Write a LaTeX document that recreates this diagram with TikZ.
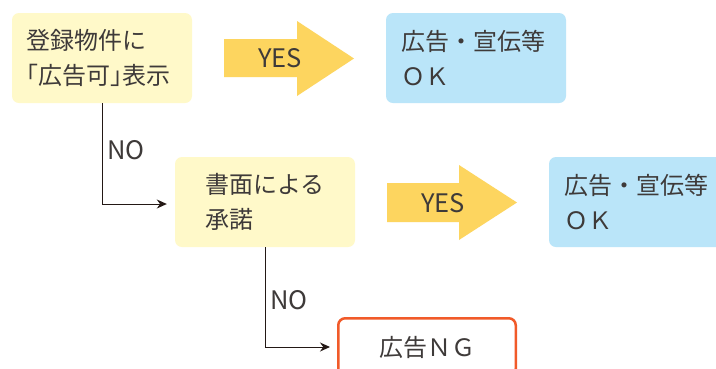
\documentclass[tikz,border=0pt]{standalone}
\usepackage{fontspec}
\setmainfont{Noto Sans CJK JP}
\usetikzlibrary{arrows.meta}
\definecolor{boxyellow}{HTML}{FFF9C9}
\definecolor{boxblue}{HTML}{BAE5F9}
\definecolor{arrowyellow}{HTML}{FDD55F}
\definecolor{ngred}{HTML}{F15A29}
\definecolor{textgray}{HTML}{3E3A39}
\definecolor{linecol}{HTML}{231815}
\newcommand\halfw[1]{{\addfontfeature{RawFeature=+halt}#1}}
\begin{document}
\begin{tikzpicture}[x=1pt,y=-1pt,
  txt/.style={text=textgray, font=\fontsize{24}{34.5}\selectfont},
  lat/.style={text=textgray, font=\fontsize{25.5}{30}\selectfont},
  qbox/.style={txt, fill=boxyellow, rounded corners=7pt, minimum width=180pt,
    minimum height=90pt, align=left, text width=150pt, inner xsep=15pt, inner ysep=0pt},
  okbox/.style={qbox, fill=boxblue},
  ngbox/.style={txt, draw=ngred, line width=2.5pt, fill=white, rounded corners=7pt,
    minimum width=177.5pt, minimum height=57.5pt, align=center},
  conn/.style={draw=linecol, line width=1pt, -{Stealth[length=10pt,width=9pt]}},
  yesfill/.style={fill=arrowyellow},
  nolabel/.style={lat, anchor=west, inner sep=0pt}
]
\clip (0,0) rectangle (716,368);
\fill[white] (0,0) rectangle (716,368);

% boxes
\node[qbox] (b1) at (102,58) {登録物件に\\\halfw{「}広告可\halfw{」}表示};
\node[okbox] (b2) at (476,58) {広告・宣伝等\\ＯＫ};
\node[qbox, text width=120pt, inner xsep=30pt] (b3) at (265,202) {書面による\\承諾};
\node[okbox] (b4) at (639,202) {広告・宣伝等\\ＯＫ};
\node[ngbox] (b5) at (427,347) {広告ＮＧ};

% YES arrows
\fill[yesfill] (224,39) -- (297,39) -- (297,21) -- (354,58.5) -- (297,96) -- (297,77) -- (224,77) -- cycle;
\node[lat] (yes1) at (280,58) {YES};
\fill[yesfill] (387,183) -- (459,183) -- (459,165) -- (517,202.5) -- (459,240) -- (459,222) -- (387,222) -- cycle;
\node[lat] (yes2) at (443,203) {YES};

% NO connectors
\draw[conn] (b1.south) |- ([xshift=-8pt,yshift=-2pt]b3.west);
\node[nolabel] (no1) at (107,150) {NO};
\draw[conn] (b3.south) |- ([xshift=-7pt]b5.west);
\node[nolabel] (no2) at (270,300) {NO};
\end{tikzpicture}
\end{document}
